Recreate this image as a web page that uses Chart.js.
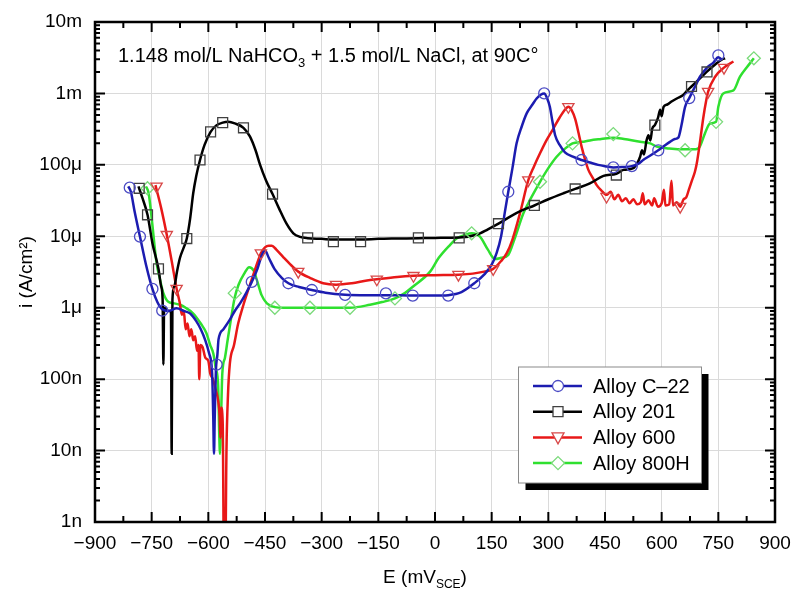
<!DOCTYPE html>
<html>
<head>
<meta charset="utf-8">
<script src="https://cdn.jsdelivr.net/npm/chart.js@4.4.1/dist/chart.umd.min.js"></script>
<style>
  html, body { margin: 0; padding: 0; background: #fff; }
</style>
</head>
<body>
<canvas id="chart" width="791" height="589"></canvas>
<script>
// axis ticks
const xTicks = [-900, -750, -600, -450, -300, -150, 0, 150, 300, 450, 600, 750, 900];
const yTicks = [1e-9, 1e-8, 1e-7, 1e-6, 1e-5, 1e-4, 1e-3, 1e-2];
const yTickLabels = ['1n', '10n', '100n', '1\u03bc', '10\u03bc', '100\u03bc', '1m', '10m'];

const seriesNames = ['Alloy C\u201322', 'Alloy 201', 'Alloy 600', 'Alloy 800H'];

// Alloy C-22 (E in mV, i in A/cm2)
const c22E = [-812,-805,-795,-781,-765,-748,-735,-722,-705,-684,-665,-648,-632,-620,-608,-598,-590,-587,-585,-583,
  -580,-576,-573,-560,-543,-530,-516,-500,-485,-470,-458,-450,-440,-425,-405,-388,-360,-326,-290,-238,
  -180,-130,-59,0,35,70,104,130,150,163,175,185,194,205,216,230,243,258,269,280,
  289,297,304,311,318,330,344,365,388,410,432,455,472,495,521,540,551,570,591,610,
  622,635,644,652,662,673,690,701,720,737,750,758];
const c22I = [5e-5,4.2e-5,2.2e-5,9.9e-6,4e-6,1.83e-6,1.2e-6,9.5e-7,9e-7,9.8e-7,9e-7,8.3e-7,6.5e-7,5e-7,3.5e-7,2.3e-7,1.2e-7,3e-8,9e-9,3e-8,
  1.3e-7,2.2e-7,3.6e-7,5e-7,6.8e-7,9e-7,1.15e-6,1.6e-6,2.3e-6,3.5e-6,5.5e-6,6.3e-6,5e-6,3.5e-6,2.6e-6,2.2e-6,1.95e-6,1.77e-6,1.62e-6,1.52e-6,
  1.5e-6,1.5e-6,1.48e-6,1.48e-6,1.5e-6,1.65e-6,2.2e-6,2.9e-6,4e-6,5.8e-6,1e-5,2.2e-5,4.2e-5,9e-5,2e-4,3.5e-4,5.3e-4,7e-4,8.5e-4,9.6e-4,
  1e-3,8.5e-4,6.5e-4,4e-4,2.6e-4,1.9e-4,1.5e-4,1.3e-4,1.17e-4,1.08e-4,1e-4,9.5e-5,9.2e-5,9.3e-5,9.6e-5,1.05e-4,1.17e-4,1.35e-4,1.6e-4,1.9e-4,
  2.1e-4,2.3e-4,2.4e-4,3.5e-4,6.5e-4,8.6e-4,1.3e-3,1.7e-3,2.3e-3,2.7e-3,3.2e-3,3e-3];
const c22MarkE = [-808,-781,-748,-722,-578,-485,-388,-326,-238,-130,-59,35,104,194,289,388,472,521,591,673,750];
const c22MarkI = [4.8e-5,9.9e-6,1.83e-6,9.1e-7,1.6e-7,2.3e-6,2.2e-6,1.77e-6,1.51e-6,1.59e-6,1.48e-6,1.48e-6,2.2e-6,4.2e-5,1e-3,1.17e-4,9.2e-5,9.6e-5,1.6e-4,8.6e-4,3.4e-3];

// Alloy 201
const a201E = [-785,-775,-761,-748,-732,-725,-721,-719,-717,-712,-705,-699,-697,-695,-690,-683,-675,-665,-657,-648,
  -640,-632,-622,-610,-594,-578,-562,-547,-530,-507,-490,-475,-463,-447,-430,-412,-393,-375,-357,-337,
  -300,-269,-233,-197,-150,-100,-44,0,64,110,140,168,200,230,263,300,340,371,410,446,
  480,499,525,535,543,548,553,560,565,570,575,582,590,596,600,605,615,626,640,657,
  668,679,700,719,740,760,768];
const a201I = [5e-5,3.5e-5,2e-5,8e-6,3.5e-6,2e-6,1.3e-6,1.6e-7,1e-6,9.5e-7,9e-7,9e-7,9e-9,1.3e-6,2e-6,3.2e-6,5e-6,7e-6,9.3e-6,1.8e-5,
  4e-5,7e-5,1.17e-4,1.9e-4,2.9e-4,3.6e-4,3.9e-4,4e-4,3.8e-4,3.3e-4,2.5e-4,1.6e-4,1e-4,6e-5,3.9e-5,2.4e-5,1.5e-5,1.1e-5,9.8e-6,9.4e-6,
  9.2e-6,9e-6,9e-6,9e-6,9.2e-6,9.3e-6,9.4e-6,9.5e-6,9.6e-6,1.05e-5,1.25e-5,1.5e-5,1.9e-5,2.3e-5,2.7e-5,3.3e-5,4e-5,4.6e-5,5.5e-5,7e-5,
  7.5e-5,8.5e-5,9e-5,1.05e-4,1.3e-4,1.6e-4,1.4e-4,2.2e-4,2.6e-4,2.2e-4,3.2e-4,3.6e-4,4.5e-4,5.9e-4,4.8e-4,6.5e-4,7e-4,7.7e-4,8.5e-4,9.5e-4,
  1.1e-3,1.25e-3,1.6e-3,2e-3,2.5e-3,3e-3,3.1e-3];
const a201MarkE = [-783,-761,-732,-657,-622,-594,-562,-507,-430,-337,-269,-197,-44,64,168,263,371,480,582,679,720];
const a201MarkI = [4.7e-5,2e-5,3.5e-6,9.3e-6,1.17e-4,2.9e-4,3.9e-4,3.3e-4,3.9e-5,9.5e-6,8.4e-6,8.4e-6,9.5e-6,9.5e-6,1.5e-5,2.7e-5,4.6e-5,7.2e-5,3.6e-4,1.25e-3,2e-3];

// Alloy 600
const a600E = [-740,-725,-710,-697,-684,-676,-670,-665,-660,-655,-650,-645,-640,-635,-630,-626,-624,-621,-615,-608,
  -600,-595,-588,-580,-574,-570,-568,-566,-562,-558,-556,-552,-548,-543,-532,-521,-507,-494,-480,-470,
  -461,-450,-440,-432,-420,-400,-380,-362,-330,-296,-262,-220,-180,-154,-100,-57,0,62,100,130,
  154,175,190,205,225,247,262,278,295,313,330,345,353,362,371,380,388,397,406,418,
  428,440,454,465,475,485,495,505,515,525,535,545,550,555,565,575,580,590,600,606,
  610,620,626,630,640,649,658,665,672,680,688,693,702,710,718,723,741,765,790];
const a600I = [5.2e-5,2.5e-5,1.05e-5,4.5e-6,1.85e-6,1.2e-6,8e-7,9e-7,5e-7,6e-7,4e-7,5e-7,3.5e-7,4e-7,2.5e-7,3e-7,1e-7,3e-7,2.8e-7,2e-7,
  1.8e-7,1.2e-7,1e-7,7e-8,5e-8,3e-8,1.5e-8,4e-8,2.5e-8,1e-10,1e-10,1e-8,6e-8,1.66e-7,3e-7,6e-7,1.1e-6,1.8e-6,3e-6,4.3e-6,
  5.8e-6,7e-6,7.4e-6,7.4e-6,6.5e-6,5e-6,3.9e-6,3.2e-6,2.6e-6,2.2e-6,2.1e-6,2.2e-6,2.4e-6,2.5e-6,2.7e-6,2.8e-6,2.85e-6,2.9e-6,3e-6,3.2e-6,
  3.5e-6,4.5e-6,5.8e-6,9e-6,2.1e-5,6.1e-5,9.5e-5,1.45e-4,2.2e-4,3.2e-4,4.6e-4,6e-4,6.5e-4,5.8e-4,4.4e-4,2.8e-4,1.8e-4,1.2e-4,8.5e-5,6.5e-5,
  5.2e-5,4.4e-5,3.8e-5,4.2e-5,3.3e-5,3.8e-5,3.1e-5,3.4e-5,2.9e-5,3.3e-5,2.8e-5,3e-5,4e-5,2.8e-5,3.2e-5,2.7e-5,3.4e-5,2.6e-5,2.9e-5,4.5e-5,
  2.7e-5,2.8e-5,6e-5,2.7e-5,3e-5,2.6e-5,3.3e-5,3.5e-5,4.5e-5,6e-5,8e-5,1.05e-4,2.2e-4,4.5e-4,8e-4,1.06e-3,1.7e-3,2.3e-3,2.8e-3];
const a600MarkE = [-737,-710,-684,-461,-362,-262,-154,-57,62,154,247,353,454,649,723,765];
const a600MarkI = [5e-5,1.05e-5,1.85e-6,5.8e-6,3.2e-6,2.1e-6,2.5e-6,2.8e-6,2.9e-6,3.5e-6,6.1e-5,6.5e-4,3.6e-5,2.6e-5,1.06e-3,2.3e-3];

// Alloy 800H
const a800E = [-765,-758,-750,-737,-728,-719,-705,-690,-675,-660,-640,-620,-605,-595,-587,-580,-574,-571,-569,-567,
  -563,-556,-549,-540,-530,-520,-505,-492,-480,-470,-459,-445,-424,-400,-366,-331,-280,-225,-172,-140,
  -106,-80,-57,-13,10,40,57,80,97,119,140,159,175,194,210,234,255,278,300,322,
  345,364,390,410,440,472,500,543,570,587,620,662,690,701,715,728,744,750,763,790,
  807,825,844];
const a800I = [5e-5,4e-5,1.8e-5,4.2e-6,2.5e-6,1.6e-6,1.2e-6,1.15e-6,1.1e-6,1e-6,8.3e-7,6e-7,4.4e-7,3e-7,2.3e-7,1.4e-7,8e-8,1.6e-8,9e-9,2e-8,
  1.2e-7,2e-7,3.5e-7,7e-7,1.4e-6,2.1e-6,3e-6,3.7e-6,3.3e-6,2.3e-6,1.5e-6,1.15e-6,1.02e-6,1e-6,1e-6,1e-6,1e-6,1e-6,1.1e-6,1.2e-6,
  1.35e-6,1.6e-6,2e-6,3.2e-6,5e-6,7.6e-6,9.3e-6,1.05e-5,1.1e-5,9.9e-6,6.5e-6,4.8e-6,5e-6,5.5e-6,9e-6,2.1e-5,3.5e-5,5.8e-5,9e-5,1.3e-4,
  1.7e-4,2e-4,2.1e-4,2.2e-4,2.3e-4,2.4e-4,2.3e-4,2.1e-4,2e-4,1.8e-4,1.7e-4,1.65e-4,1.65e-4,1.8e-4,2.8e-4,3.8e-4,4e-4,6.5e-4,1e-3,1.1e-3,
  1.7e-3,2.3e-3,3.1e-3];
const a800MarkE = [-761,-530,-424,-331,-225,-106,97,278,364,472,662,744,844];
const a800MarkI = [4.7e-5,1.6e-6,1e-6,1e-6,1e-6,1.35e-6,1.1e-5,5.8e-5,2e-4,2.7e-4,1.6e-4,4e-4,3.1e-3];

const lineColors = ['#1c1cb0', '#000000', '#e81818', '#2fe02f'];
const markColors = ['#4b4bc4', '#404040', '#d84848', '#7ada7a'];
const markStyles = ['circle', 'rect', 'triangle', 'rectRot'];
const markSizes = [5.5, 7, 6.5, 6.5];
const markRot = [0, 0, 180, 0];

const FONT = '"Liberation Sans", Arial, Helvetica, sans-serif';

function pts(xs, ys) {
  return xs.map((x, k) => ({ x: x, y: ys[k] }));
}

const lines = [[c22E, c22I], [a201E, a201I], [a600E, a600I], [a800E, a800I]];
const marks = [[c22MarkE, c22MarkI], [a201MarkE, a201MarkI], [a600MarkE, a600MarkI], [a800MarkE, a800MarkI]];

const datasets = [];
lines.forEach((s, k) => {
  datasets.push({
    label: seriesNames[k],
    data: pts(s[0], s[1]),
    borderColor: lineColors[k],
    borderWidth: 2.5,
    pointRadius: 0,
    cubicInterpolationMode: 'monotone',
    fill: false,
    order: 2
  });
});
marks.forEach((s, k) => {
  datasets.push({
    label: seriesNames[k] + ' markers',
    data: pts(s[0], s[1]),
    showLine: false,
    pointStyle: markStyles[k],
    pointRadius: markSizes[k],
    pointRotation: markRot[k],
    pointBorderColor: markColors[k],
    pointBorderWidth: 1.3,
    pointBackgroundColor: 'rgba(0,0,0,0)',
    order: 1
  });
});

// draw a legend marker by hand
function drawMark(ctx, k, x, y) {
  ctx.save();
  ctx.strokeStyle = markColors[k];
  ctx.lineWidth = 1.3;
  ctx.fillStyle = '#fff';
  ctx.beginPath();
  if (k === 0) {
    ctx.arc(x, y, 5.5, 0, Math.PI * 2);
  } else if (k === 1) {
    ctx.rect(x - 5, y - 5, 10, 10);
  } else if (k === 2) {
    ctx.moveTo(x - 6, y - 4.5);
    ctx.lineTo(x + 6, y - 4.5);
    ctx.lineTo(x, y + 6.5);
    ctx.closePath();
  } else {
    ctx.moveTo(x, y - 6.5);
    ctx.lineTo(x + 6.5, y);
    ctx.lineTo(x, y + 6.5);
    ctx.lineTo(x - 6.5, y);
    ctx.closePath();
  }
  ctx.fill();
  ctx.stroke();
  ctx.restore();
}

const decor = {
  id: 'decor',
  afterDraw(chart) {
    const ctx = chart.ctx;
    const a = chart.chartArea;
    const xs = chart.scales.x;
    const ys = chart.scales.y;
    ctx.save();

    // ticks inside the frame
    ctx.strokeStyle = '#000';
    ctx.lineWidth = 2;
    ctx.beginPath();
    for (let v = -900; v <= 900; v += 75) {
      const px = xs.getPixelForValue(v);
      const len = (v % 150 === 0) ? 10 : 6;
      ctx.moveTo(px, a.bottom); ctx.lineTo(px, a.bottom - len);
      ctx.moveTo(px, a.top); ctx.lineTo(px, a.top + len);
    }
    for (let d = -9; d <= -2; d++) {
      for (let m = 1; m <= 9; m++) {
        const v = m * Math.pow(10, d);
        if (v > 1.0001e-2) break;
        const py = ys.getPixelForValue(v);
        const len = m === 1 ? 10 : 5;
        ctx.moveTo(a.left, py); ctx.lineTo(a.left + len, py);
        ctx.moveTo(a.right, py); ctx.lineTo(a.right - len, py);
      }
    }
    ctx.stroke();

    // frame
    ctx.lineWidth = 2.5;
    ctx.strokeRect(a.left, a.top, a.right - a.left, a.bottom - a.top);

    // condition text with subscript
    ctx.fillStyle = '#000';
    ctx.textBaseline = 'alphabetic';
    ctx.textAlign = 'left';
    ctx.font = '20px ' + FONT;
    let tx = 118;
    const ty = 62;
    const t1 = '1.148 mol/L NaHCO';
    ctx.fillText(t1, tx, ty);
    tx += ctx.measureText(t1).width;
    ctx.font = '13px ' + FONT;
    ctx.fillText('3', tx, ty + 5);
    tx += ctx.measureText('3').width;
    ctx.font = '20px ' + FONT;
    ctx.fillText(' + 1.5 mol/L NaCl, at 90C\u00b0', tx, ty);

    // y axis title
    ctx.save();
    ctx.translate(27, 272);
    ctx.rotate(-Math.PI / 2);
    ctx.textAlign = 'center';
    ctx.textBaseline = 'middle';
    ctx.font = '19px ' + FONT;
    ctx.fillText('i (A/cm\u00b2)', 0, 0);
    ctx.restore();

    // x axis title with subscript
    const p1 = 'E (mV', p3 = ')';
    ctx.font = '12px ' + FONT;
    const w2 = ctx.measureText('SCE').width;
    ctx.font = '19px ' + FONT;
    const w1 = ctx.measureText(p1).width, w3 = ctx.measureText(p3).width;
    let ex = 425 - (w1 + w2 + w3) / 2;
    const ey = 583;
    ctx.textAlign = 'left';
    ctx.textBaseline = 'alphabetic';
    ctx.fillText(p1, ex, ey);
    ex += w1;
    ctx.font = '12px ' + FONT;
    ctx.fillText('SCE', ex, ey + 5);
    ex += w2;
    ctx.font = '19px ' + FONT;
    ctx.fillText(p3, ex, ey);

    // legend box with drop shadow
    const lx = 518.5, ly = 367, lw = 183, lh = 116;
    ctx.fillStyle = '#000';
    ctx.fillRect(lx + 7, ly + 7, lw, lh);
    ctx.fillStyle = '#fff';
    ctx.fillRect(lx, ly, lw, lh);
    ctx.strokeStyle = '#8a8a8a';
    ctx.lineWidth = 1;
    ctx.strokeRect(lx, ly, lw, lh);
    ctx.font = '20px ' + FONT;
    ctx.textBaseline = 'middle';
    for (let k = 0; k < 4; k++) {
      const ry = 386 + k * 25.7;
      ctx.strokeStyle = lineColors[k];
      ctx.lineWidth = 2.5;
      ctx.beginPath();
      ctx.moveTo(533, ry); ctx.lineTo(582, ry);
      ctx.stroke();
      drawMark(ctx, k, 558, ry);
      ctx.fillStyle = '#000';
      ctx.fillText(seriesNames[k], 593, ry + 1);
    }
    ctx.restore();
  }
};

new Chart(document.getElementById('chart'), {
  type: 'line',
  data: { datasets: datasets },
  options: {
    responsive: false,
    animation: false,
    layout: { padding: { top: 22, right: 16, left: 0, bottom: 0 } },
    plugins: {
      legend: { display: false },
      tooltip: { enabled: false },
      title: { display: false }
    },
    scales: {
      x: {
        type: 'linear',
        min: -900,
        max: 900,
        afterBuildTicks: s => { s.ticks = xTicks.map(v => ({ value: v })); },
        afterFit: s => { s.height = 67; s.paddingLeft = 0; s.paddingRight = 0; },
        ticks: {
          autoSkip: false,
          maxRotation: 0,
          padding: 10,
          color: '#000',
          font: { family: FONT, size: 19 },
          callback: v => v < 0 ? '\u2212' + (-v) : String(v)
        },
        grid: { color: '#dadada', lineWidth: 1, drawTicks: false },
        border: { display: false }
      },
      y: {
        type: 'logarithmic',
        min: 1e-9,
        max: 1e-2,
        afterBuildTicks: s => { s.ticks = yTicks.map(v => ({ value: v })); },
        afterFit: s => { s.width = 95; s.paddingTop = 0; s.paddingBottom = 0; },
        ticks: {
          autoSkip: false,
          padding: 13,
          color: '#000',
          font: { family: FONT, size: 19 },
          callback: v => yTickLabels[Math.round(Math.log10(v)) + 9]
        },
        grid: { color: '#dadada', lineWidth: 1, drawTicks: false },
        border: { display: false }
      }
    }
  },
  plugins: [decor]
});
</script>
</body>
</html>
